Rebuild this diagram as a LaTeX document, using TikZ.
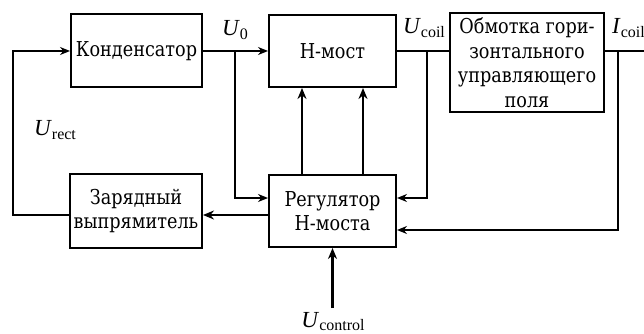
\documentclass[tikz,border=0pt]{standalone}
\usepackage{fontspec}
\setmainfont{Liberation Serif}
\newfontfamily\cyrserif{DejaVu Serif}[FakeStretch=0.86]
\usetikzlibrary{arrows.meta,calc}
\newcommand{\sigl}[2]{\textit{#1}\raisebox{-0.35ex}{\fontsize{16}{16}\selectfont #2}}
\begin{document}
\begin{tikzpicture}[x=1pt,y=1pt,
  blk/.style={draw,line width=2pt,inner sep=0pt,align=center,font=\cyrserif\fontsize{20.5}{24.5}\selectfont},
  conn/.style={line width=1.4pt},
  arr/.style={line width=1.4pt,-{Stealth[length=10pt,width=8pt]}},
  tarr/.style={line width=2.4pt,-{Stealth[length=11pt,width=9pt]}},
  lbl/.style={inner sep=0pt,font=\fontsize{23}{24}\selectfont}]
\useasboundingbox (0,0) rectangle (644,-334);
\node[blk,minimum width=131pt,minimum height=73pt] (cond) at (136.5,-51) {Конденсатор};
\node[blk,minimum width=127pt,minimum height=72pt] (hb) at (332.5,-51) {Н-мост};
\node[blk,minimum width=154pt,minimum height=99pt] (wind) at (527,-62.5) {Обмотка гори-\\зонтального\\управляющего\\поля};
\node[blk,minimum width=132pt,minimum height=74pt] (rect) at (136,-211) {Зарядный\\выпрямитель};
\node[blk,minimum width=127pt,minimum height=72pt] (reg) at (332.5,-211) {Регулятор\\Н-моста};
\coordinate (L) at (13,-51);
\coordinate (j1) at (235,-51);
\coordinate (j2) at (427,-51);
\coordinate (j3) at (618,-51);
\coordinate (R) at (644,-51);
\coordinate (uc) at (332.5,-308);
% main line
\draw[arr] (cond.east) -- (hb.west);
\draw[arr] (j1) |- ([yshift=13pt]reg.west);
\draw[tarr] ([yshift=-4pt]reg.west) -- ([yshift=-4pt]reg.west -| rect.east);
\draw[arr] ([yshift=-4pt]rect.west) -| (L) -- (cond.west);
\draw[tarr] ([xshift=-30.5pt]reg.north) -- ([xshift=-30.5pt]hb.south);
\draw[tarr] ([xshift=30.5pt]reg.north) -- ([xshift=30.5pt]hb.south);
\draw[conn] (hb.east) -- (hb.east -| wind.west);
\draw[arr] (j2) |- ([yshift=13pt]reg.east);
\draw[conn] (hb.east -| wind.east) -- (R);
\draw[arr] (j3) |- ([yshift=-19pt]reg.east);
\draw[tarr] (uc) -- (reg.south);
% labels
\node[lbl] (l0) at (235,-30) {\sigl{U}{0}};
\node[lbl] (l1) at (424,-28) {\sigl{U}{coil}};
\node[lbl,anchor=west] (l2) at (612,-28) {\sigl{I}{coil}};
\node[lbl] (l3) at (55,-130) {\sigl{U}{rect}};
\node[lbl,anchor=base] (l4) at (333,-327) {\sigl{U}{control}};
\end{tikzpicture}
\end{document}
